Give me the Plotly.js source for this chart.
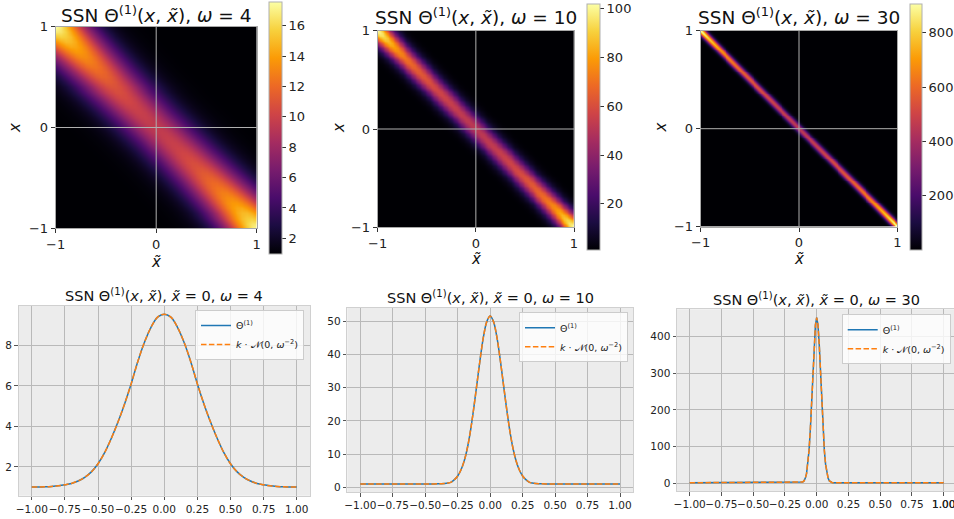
<!DOCTYPE html>
<html><head><meta charset="utf-8">
<script src="https://cdn.plot.ly/plotly-3.0.1.min.js"></script>
<style>html,body{margin:0;padding:0;background:#fff}#chart{width:954px;height:519px}</style>
</head><body><div id="chart"></div>
<script>
// ---- data ----
const omegas = [4, 10, 30];

// Θ(x, x̃=0) profiles (lower panels)
const x_w4 = [-1.00,-0.95,-0.90,-0.85,-0.80,-0.75,-0.70,-0.65,-0.60,-0.55,-0.50,-0.45,-0.40,-0.35,-0.30,-0.25,-0.20,-0.15,-0.10,-0.05,0.00,
              0.05,0.10,0.15,0.20,0.25,0.30,0.35,0.40,0.45,0.50,0.55,0.60,0.65,0.70,0.75,0.80,0.85,0.90,0.95,1.00];
const y_w4 = [1.00,1.00,1.01,1.03,1.06,1.11,1.18,1.30,1.48,1.75,2.15,2.70,3.40,4.20,5.10,6.10,7.20,8.15,8.90,9.40,9.55,
              9.40,8.90,8.15,7.20,6.10,5.10,4.20,3.40,2.70,2.15,1.75,1.48,1.30,1.18,1.11,1.06,1.03,1.01,1.00,1.00];

const x_w10 = [-1.0,-0.8,-0.6,-0.5,-0.45,-0.4,-0.375,-0.35,-0.325,-0.3,-0.275,-0.25,-0.225,-0.2,-0.175,-0.15,-0.125,-0.1,-0.075,-0.05,-0.025,0,
               0.025,0.05,0.075,0.1,0.125,0.15,0.175,0.2,0.225,0.25,0.275,0.3,0.325,0.35,0.375,0.4,0.45,0.5,0.6,0.8,1.0];
const y_w10 = [1,1,1,1,1,1.02,1.04,1.1,1.25,1.55,2.3,3.4,5.2,7.9,11.9,17.4,24.2,31.7,39.2,45.7,50.0,51.6,
               50.0,45.7,39.2,31.7,24.2,17.4,11.9,7.9,5.2,3.4,2.3,1.55,1.25,1.1,1.04,1.02,1,1,1,1,1];

const x_w30 = [-1.0,-0.75,-0.5,-0.25,-0.2,-0.15,-0.14,-0.13,-0.12,-0.11,-0.10,-0.09,-0.08,-0.07,-0.06,-0.05,-0.04,-0.03,-0.02,-0.01,0,
               0.01,0.02,0.03,0.04,0.05,0.06,0.07,0.08,0.09,0.10,0.11,0.12,0.13,0.14,0.15,0.2,0.25,0.5,0.75,1.0];
const y_w30 = [1,1,1,1,1,1.0,1.05,1.2,1.7,3,6,13,26,51,90,147,221,302,378,432,452,
               432,378,302,221,147,90,51,26,13,6,3,1.7,1.2,1.05,1.0,1,1,1,1,1];

// band amplitude along the diagonal (upper heatmaps), by |position| from centre to corner
const amp_pos = [0, 0.2, 0.4, 0.6, 0.7, 0.8, 0.9, 0.95, 1.0];
const amp_w4  = [9.55, 10.0, 10.9, 12.4, 13.3, 14.3, 15.6, 16.5, 17.6];
const amp_w10 = [51.6, 54, 58, 65, 70, 77, 88, 95, 102];
const amp_w30 = [452, 480, 525, 590, 640, 700, 780, 840, 905];

const ticks_x = [-1, -0.75, -0.5, -0.25, 0, 0.25, 0.5, 0.75, 1];

// ---- helpers ----
function interp(xs, ys, t){
  if (t <= xs[0]) return ys[0];
  if (t >= xs[xs.length-1]) return ys[ys.length-1];
  let k = 1; while (xs[k] < t) k++;
  const f = (t - xs[k-1])/(xs[k]-xs[k-1]);
  return ys[k-1] + f*(ys[k]-ys[k-1]);
}
function buildZ(px, py, ay, h){
  const n = Math.round(2/h), g = [];
  for (let i=0;i<=n;i++) g.push(-1 + i*h);
  const base = Math.min(...py), P = Math.max(...py);
  const z = [];
  for (let i=0;i<=n;i++){
    const row = [];
    for (let j=0;j<=n;j++){
      const d = g[i] + g[j];
      const s = Math.abs(g[j]-g[i])/2;
      const p = interp(px, py, d);
      const A = interp(amp_pos, ay, s);
      row.push(base + (A-base)*(p-base)/(P-base));
    }
    z.push(row);
  }
  return {g, z};
}

const inferno = [[0,'#000004'],[1/9,'#1b0c41'],[2/9,'#4a0c6b'],[3/9,'#781c6d'],[4/9,'#a52c60'],
                 [5/9,'#cf4446'],[6/9,'#ed6925'],[7/9,'#fb9b06'],[8/9,'#f7d13d'],[1,'#fcffa4']];
const FONT = 'DejaVu Sans';
const W = 954, H = 519;
const px2x = p => p/W, px2y = p => 1 - p/H;

const profX = [x_w4, x_w10, x_w30], profY = [y_w4, y_w10, y_w30];
const amps = [amp_w4, amp_w10, amp_w30];
const steps = [0.05, 0.025, 0.005];
const smooth = ['best', 'best', false];

// geometry (pixels)
const hmBox = [[55.7,256.7,26.7,228.3],[377.7,574,30.7,227.3],[700.7,897.3,30.7,226.7]];
const cbBox = [[269.3,282.7,1.7,253.3],[586.7,599.3,4,250],[910,922.3,4,250]];
const cbDt = [2, 20, 200];
const lnBox = [[18.5,310,305.5,495.7],[347.3,633,307.7,492.3],[677,954,309.3,491]];
const legPos = [[304,310],[628,312.3],[950.7,314.3]];

const traces = [];
const layout = {
  width: W, height: H, margin:{l:0,r:0,t:0,b:0},
  paper_bgcolor:'#ffffff', plot_bgcolor:'#ffffff',
  font:{family:FONT, color:'#222222'},
  annotations: [], shapes: []
};

for (let k=0;k<3;k++){
  const n = k+1, sfx = n===1 ? '' : String(n);
  const {g, z} = buildZ(profX[k], profY[k], amps[k], steps[k]);
  const hb = hmBox[k], cb = cbBox[k];
  traces.push({
    type:'heatmap', x:g, y:g, z:z, zsmooth:smooth[k], colorscale:inferno,
    xaxis:'x'+sfx, yaxis:'y'+sfx, showlegend:false, hoverinfo:'skip',
    colorbar:{x:px2x(cb[0]), xanchor:'left', xref:'paper', y:px2y((cb[2]+cb[3])/2), yanchor:'middle', yref:'paper',
      len:cb[3]-cb[2], lenmode:'pixels', thickness:cb[1]-cb[0], thicknessmode:'pixels', xpad:0, ypad:0,
      outlinewidth:1, outlinecolor:'#b0b0b0', ticks:'outside', ticklen:4, tickwidth:1, tickcolor:'#333',
      tickmode:'linear', tick0:0, dtick:cbDt[k], tickfont:{size:13, family:FONT, color:'#222'}}
  });
  const axCommon = {range:[-1,1], tickvals:[-1,0,1], ticks:'outside', ticklen:4, tickcolor:'#333', showgrid:false,
    zeroline:false, showline:true, mirror:true, linecolor:'#a8a8a8', linewidth:1, layer:'above traces',
    tickfont:{size:13, family:FONT, color:'#222'}, fixedrange:true};
  layout['xaxis'+sfx] = Object.assign({}, axCommon, {domain:[px2x(hb[0]), px2x(hb[1])], anchor:'y'+sfx});
  layout['yaxis'+sfx] = Object.assign({}, axCommon, {domain:[px2y(hb[3]), px2y(hb[2])], anchor:'x'+sfx});
  layout.shapes.push({type:'line', xref:'x'+sfx, yref:'y'+sfx+' domain', x0:0, x1:0, y0:0, y1:1, layer:'above', line:{color:'#b0b0b0', width:1}});
  layout.shapes.push({type:'line', yref:'y'+sfx, xref:'x'+sfx+' domain', y0:0, y1:0, x0:0, x1:1, layer:'above', line:{color:'#b0b0b0', width:1}});
  const titleY = [13.5, 16.5, 16][k];
  layout.annotations.push({xref:'paper', yref:'paper', x:px2x((hb[0]+hb[1])/2), y:px2y(titleY), yanchor:'middle', xanchor:'center', showarrow:false,
    text:'SSN Θ<sup>(1)</sup>(<i>x</i>, <i>x\u0303</i>), <i>ω</i> = '+omegas[k], font:{size:18.5, family:FONT, color:'#111'}});
  layout.annotations.push({xref:'paper', yref:'paper', x:px2x((hb[0]+hb[1])/2), y:px2y([262,259,259][k]), yanchor:'middle', xanchor:'center', showarrow:false,
    text:'<i>x\u0303</i>', font:{size:15, family:FONT, color:'#111'}});
  layout.annotations.push({xref:'paper', yref:'paper', x:px2x([14.3,338.3,660.7][k]), y:px2y(127.7), yanchor:'middle', xanchor:'center', showarrow:false,
    textangle:-90, text:'<i>x</i>', font:{size:15, family:FONT, color:'#111'}});

  // lower line panels
  const m = k+4, lb = lnBox[k];
  const ys = profY[k];
  const lo = Math.min(...ys), hi = Math.max(...ys), pad = 0.05*(hi-lo);
  const leg = k===0 ? 'legend' : 'legend'+(k+1);
  traces.push({type:'scatter', mode:'lines', x:profX[k], y:ys, xaxis:'x'+m, yaxis:'y'+m, legend:leg,
    name:'Θ<sup>(1)</sup>', line:{color:'#1f77b4', width:1.5, shape: k<2 ? 'spline' : 'linear'}, hoverinfo:'skip'});
  traces.push({type:'scatter', mode:'lines', x:profX[k], y:ys, xaxis:'x'+m, yaxis:'y'+m, legend:leg,
    name:'<i>k</i> · 𝒩(0, <i>ω</i><sup>−2</sup>)', line:{color:'#ff7f0e', width:1.5, dash:'5.5px,2.4px', shape: k<2 ? 'spline' : 'linear'}, hoverinfo:'skip'});
  const xr = k===2 ? [-1.1, -1.1 + 2.2*(lb[1]-lb[0])/(956.4-677)] : [-1.1, 1.1];
  layout['xaxis'+m] = {domain:[px2x(lb[0]), px2x(lb[1])], anchor:'y'+m, range:xr, tickvals:ticks_x, tickformat:'.2f', tickangle:0,
    ticklabeloverflow:'allow',
    ticks:'outside', ticklen:3.5, tickcolor:'#555', showgrid:true, gridcolor:'#b9b9b9', gridwidth:1, zeroline:false,
    showline:true, mirror:true, linecolor:'#d0d0d0', tickfont:{size:10.5, family:FONT, color:'#222'}, fixedrange:true};
  layout['yaxis'+m] = {domain:[px2y(lb[3]), px2y(lb[2])], anchor:'x'+m, range:[lo-pad, hi+pad], dtick:[2,10,100][k], tick0:0,
    ticks:'outside', ticklen:3.5, tickcolor:'#555', showgrid:true, gridcolor:'#b9b9b9', gridwidth:1, zeroline:false,
    showline:true, mirror:true, linecolor:'#d0d0d0', tickfont:{size:10.5, family:FONT, color:'#222'}, fixedrange:true};
  layout.shapes.push({type:'rect', xref:'x'+m+' domain', yref:'y'+m+' domain', x0:0, x1:1, y0:0, y1:1, layer:'below',
    fillcolor:'#ececec', line:{width:0}});
  layout[leg] = {x:px2x(legPos[k][0]), y:px2y(legPos[k][1]), xanchor:'right', yanchor:'top', xref:'paper', yref:'paper',
    bgcolor:'rgba(255,255,255,0.8)', bordercolor:'#cccccc', borderwidth:1, font:{size:9.5, family:FONT, color:'#222'},
    tracegroupgap:0, itemwidth:30};
  layout.annotations.push({xref:'paper', yref:'paper', x:px2x((lb[0]+(k===2?956.4:lb[1]))/2), y:px2y([295,296.7,299.3][k]), yanchor:'middle', xanchor:'center', showarrow:false,
    text:'SSN Θ<sup>(1)</sup>(<i>x</i>, <i>x\u0303</i>), <i>x\u0303</i> = 0, <i>ω</i> = '+omegas[k], font:{size:14.5, family:FONT, color:'#111'}});
}
// last tick label of the right-hand lower panel runs past the page edge (as in the reference); Plotly drops it, so write it
layout.annotations.push({xref:'x6', yref:'paper', x:ticks_x[ticks_x.length-1], y:px2y(496), xanchor:'center', yanchor:'top', showarrow:false,
  text:ticks_x[ticks_x.length-1].toFixed(2), font:{size:10.5, family:FONT, color:'#222'}});

Plotly.newPlot('chart', traces, layout, {staticPlot:true, displayModeBar:false});
</script></body></html>
